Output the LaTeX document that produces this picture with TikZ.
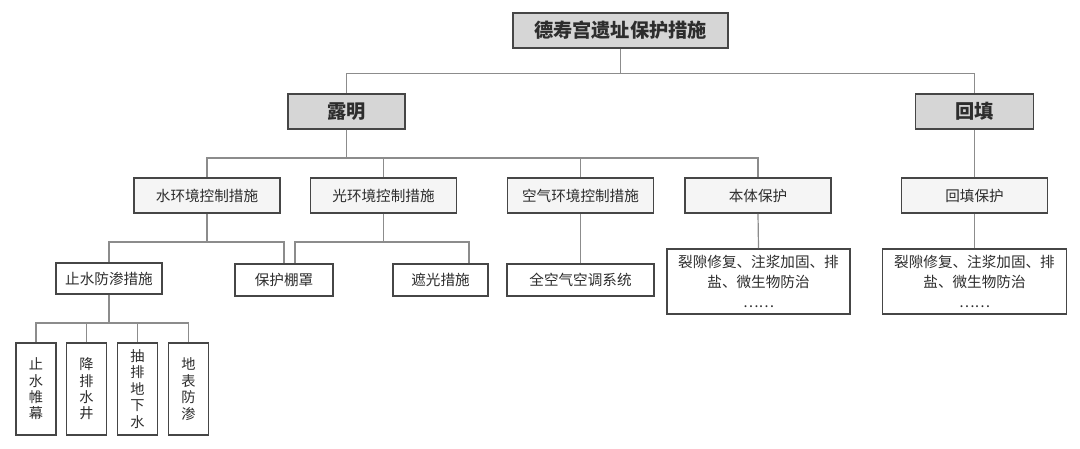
\documentclass[tikz,border=0pt]{standalone}
\usepackage{fontspec}
\setmainfont{Noto Sans CJK SC}
\usetikzlibrary{calc,positioning}
\definecolor{TitleGray}{RGB}{214,214,214}
\definecolor{PaleGray}{RGB}{245,245,245}
\definecolor{LinkGray}{RGB}{140,140,140}
\definecolor{EdgeDark}{RGB}{70,70,70}
\definecolor{InkGray}{RGB}{45,45,45}
\tikzset{
  box/.style={draw=EdgeDark,line width=0.9pt,text=InkGray,inner sep=0pt,align=center,
    font=\fontsize{7.3}{10}\selectfont},
  titlebox/.style={box,fill=TitleGray,minimum height=17.5pt,font=\fontsize{9.6}{11}\selectfont\bfseries},
  midbox/.style={box,fill=PaleGray,minimum width=73pt,minimum height=17.5pt},
  leafbox/.style={box,fill=white,minimum height=16pt},
  tallbox/.style={box,fill=white,minimum width=20pt,minimum height=46pt,
    font=\fontsize{7.1}{8.2}\selectfont},
  link/.style={draw=LinkGray,line width=0.6pt}
}

\begin{document}
\begin{tikzpicture}[x=0.5pt,y=-0.5pt]
  \useasboundingbox (0,0) rectangle (1080,449);
  % levels 1 and 2
  \node[titlebox,minimum width=107.5pt] (site) at (620.5,30.5) {德寿宫遗址保护措施};
  \node[titlebox,minimum width=58.5pt] (expose) at (346.5,111.5) {露明};
  \node[titlebox,minimum width=59pt] (backfill) at (974.5,111.5) {回填};
  % level 3
  \node[midbox] (water) at (207,195.5) {水环境控制措施};
  \node[midbox] (light) at (383.5,195.5) {光环境控制措施};
  \node[midbox] (air) at (580.5,195.5) {空气环境控制措施};
  \node[midbox] (body) at (758,195.5) {本体保护};
  \node[midbox] (fillprot) at (974.5,195.5) {回填保护};
  % level 4
  \node[leafbox,minimum width=53pt,minimum height=15.5pt] (seal) at (109,278.5) {止水防渗措施};
  \node[leafbox,minimum width=49pt] (shed) at (284,280) {保护棚罩};
  \node[leafbox,minimum width=47.5pt] (shade) at (440.5,280) {遮光措施};
  \node[leafbox,minimum width=73.5pt] (hvac) at (580.5,280) {全空气空调系统};
  \node[leafbox,minimum width=91.5pt,minimum height=32.5pt] (repairA) at (758.5,281.5)
    {裂隙修复、注浆加固、排\\盐、微生物防治\\……};
  \node[leafbox,minimum width=92pt,minimum height=32.5pt] (repairB) at (974.5,281.5)
    {裂隙修复、注浆加固、排\\盐、微生物防治\\……};
  % level 5
  \foreach \x/\t [count=\i] in {36/{止\\水\\帷\\幕},86.5/{降\\排\\水\\井},
      137.5/{抽\\排\\地\\下\\水},188.5/{地\\表\\防\\渗}}
    \node[tallbox] (drain\i) at (\x,389) {\t};

  % connectors
  \draw[link] (site.south) -- ++(0,25) -| (expose.north);
  \draw[link] (site.south) -- ++(0,25) -| (backfill.north);
  \foreach \n in {water,light,air,body}
    \draw[link] (expose.south) -- ++(0,28) -| (\n.north);
  \draw[link] (backfill.south) -- (fillprot.north);
  \draw[link] (fillprot.south) -- (repairB.north);
  \draw[link] (body.south) -- (repairA.north);
  \draw[link] (air.south) -- (hvac.north);
  \draw[link] (water.south) -- ++(0,28) -| (seal.north);
  \draw[link] (water.south) -- ++(0,28) -| (shed.north);
  \draw[link] (light.south) -- ++(0,28) -| ($(shed.north)+(11,0)$);
  \draw[link] (light.south) -- ++(0,28) -| ($(shade.north)+(28.5,0)$);
  \foreach \i in {1,...,4}
    \draw[link] (seal.south) -- ++(0,28) -| (drain\i.north);
\end{tikzpicture}
\end{document}
